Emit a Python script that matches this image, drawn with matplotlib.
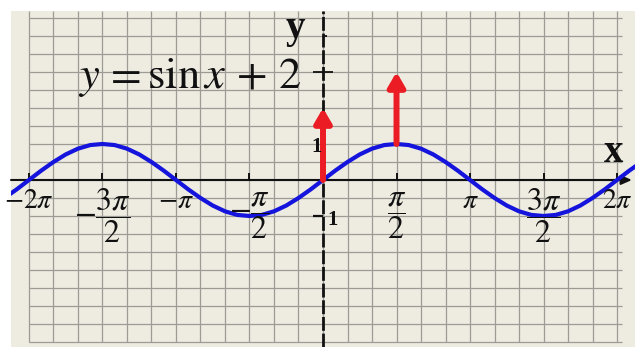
import numpy as np
import matplotlib.pyplot as plt

plt.rcParams['mathtext.fontset'] = 'stix'

# blue curve: x in steps of pi/12, heights
curve_x_steps = [-26, -25, -24, -23, -22, -21, -20, -19, -18, -17, -16, -15, -14,
                 -13, -12, -11, -10, -9, -8, -7, -6, -5, -4, -3, -2, -1, 0,
                 1, 2, 3, 4, 5, 6, 7, 8, 9, 10, 11, 12, 13,
                 14, 15, 16, 17, 18, 19, 20, 21, 22, 23, 24, 25, 26]
curve_y = [-0.5, -0.26, 0, 0.26, 0.5, 0.71, 0.87, 0.97, 1, 0.97, 0.87, 0.71, 0.5,
           0.26, 0, -0.26, -0.5, -0.71, -0.87, -0.97, -1, -0.97, -0.87, -0.71, -0.5, -0.26, 0,
           0.26, 0.5, 0.71, 0.87, 0.97, 1, 0.97, 0.87, 0.71, 0.5, 0.26, 0, -0.26,
           -0.5, -0.71, -0.87, -0.97, -1, -0.97, -0.87, -0.71, -0.5, -0.26, 0, 0.26, 0.5]

# x ticks, multiples of pi
tick_pos = [-2, -1.5, -1, -0.5, 0.5, 1, 1.5, 2]
tick_labels = [r'$-2\pi$', r'$-\dfrac{3\pi}{2}$', r'$-\pi$', r'$-\dfrac{\pi}{2}$',
               r'$\dfrac{\pi}{2}$', r'$\pi$', r'$\dfrac{3\pi}{2}$', r'$2\pi$']

# red arrows: shift up by 2
arrow_x = [0, 0.5]   # multiples of pi
arrow_from = [0, 1]
arrow_to = [2, 3]

bg = '#EEEBE1'
gridc = '#9C9B94'
ink = '#111111'

fig = plt.figure(figsize=(6.35, 3.47), dpi=100)
ax = fig.add_axes([11/635, 0, 624/635, 336/347])
ax.set_facecolor(bg)
for s in ax.spines.values():
    s.set_visible(False)
ax.set_xticks([])
ax.set_yticks([])
xmax = 6.667
ax.set_xlim(-xmax, xmax)
ax.set_ylim(-4.639, 4.694)

# grid paper
ax.vlines(np.arange(-12, 13) * np.pi / 6, -4.5, 4.694, color=gridc, lw=0.9, zorder=1)
ax.hlines(np.arange(-9, 10) * 0.5, -2 * np.pi, 2 * np.pi + 0.1, color=gridc, lw=0.9, zorder=1)

# axes
ax.axvline(0, color=ink, lw=2.0, dashes=(5, 1), zorder=3)
ax.annotate('', xy=(6.60, 0), xytext=(-xmax, 0),
            arrowprops=dict(arrowstyle='-|>,head_width=0.2,head_length=0.45',
                            lw=1.5, color=ink, shrinkA=0, shrinkB=0, mutation_scale=14),
            zorder=3)
ax.vlines(np.array(tick_pos) * np.pi, 0, 0.2, color=ink, lw=1.4, zorder=3)
ax.hlines([3], -0.21, 0.21, color=ink, lw=1.3, zorder=3)
ax.hlines([4], 0, 0.09, color=ink, lw=1.3, zorder=3)
ax.hlines([-1], -0.21, 0, color=ink, lw=1.6, zorder=3)

# curve
ax.plot(np.array(curve_x_steps) * np.pi / 12, curve_y, color='#1414DC', lw=3.0,
        solid_joinstyle='round', zorder=4)

# arrows
for xa, y0, y1 in zip(arrow_x, arrow_from, arrow_to):
    ax.annotate('', xy=(xa * np.pi, y1), xytext=(xa * np.pi, y0),
                arrowprops=dict(arrowstyle='-|>,head_width=0.25,head_length=0.43',
                                lw=4.3, color='#EC1C24', shrinkA=0, shrinkB=0,
                                mutation_scale=20),
                zorder=5)

# tick labels
for p, lab in zip(tick_pos, tick_labels):
    if 'frac' in lab:
        ax.text(p * np.pi, -1.0, lab, ha='center', va='center', fontsize=23, color=ink, zorder=6)
    else:
        ax.text(p * np.pi, -0.56, lab, ha='center', va='center', fontsize=20, color=ink, zorder=6)

# texts
ax.text(-5.235, 2.556, r'$y\,=\sin x\,+\,2$', fontsize=32, color=ink, ha='left', va='baseline', zorder=6)
ax.text(-0.6, 4.22, 'y', fontsize=28, fontweight='bold', family='Liberation Serif',
        color=ink, ha='center', va='center', zorder=6)
ax.text(6.2, 0.75, 'x', fontsize=28, fontweight='bold', family='Liberation Serif',
        color=ink, ha='center', va='center', zorder=6)
ax.text(-0.13, 0.92, '1', fontsize=15, fontweight='bold', family='Liberation Serif',
        color=ink, ha='center', va='center', zorder=6)
ax.text(0.2, -1.1, '1', fontsize=15, fontweight='bold', family='Liberation Serif',
        color=ink, ha='center', va='center', zorder=6)

fig.savefig('out.png', dpi=100, facecolor='white')
